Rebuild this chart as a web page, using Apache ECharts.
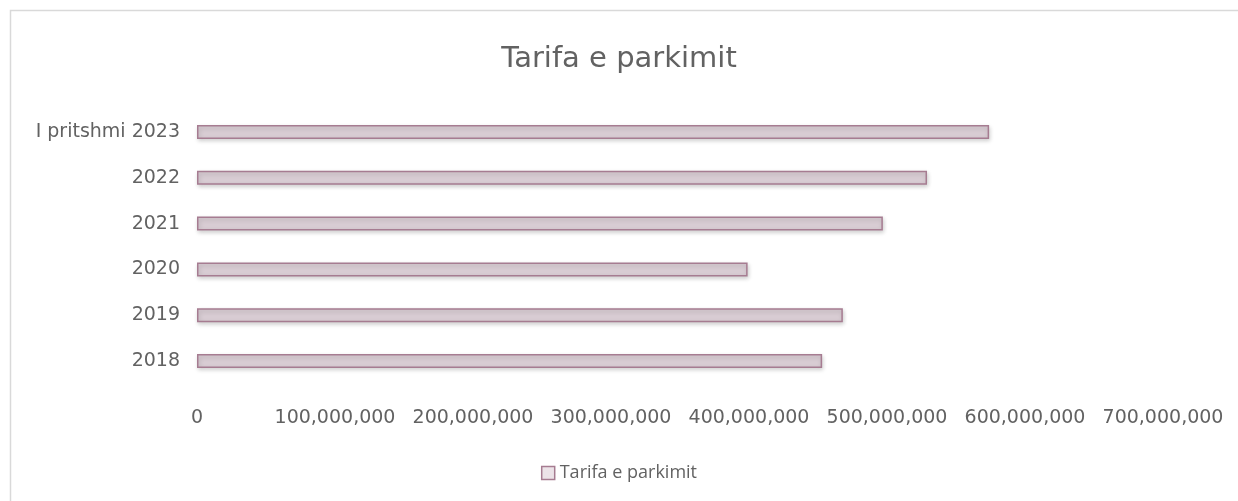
<!DOCTYPE html>
<html>
<head>
<meta charset="utf-8">
<script src="https://cdn.jsdelivr.net/npm/echarts@6/dist/echarts.min.js"></script>
<style>
  html, body { margin: 0; padding: 0; background: #fff; }
  #main { width: 1238px; height: 501px; }
</style>
</head>
<body>
<div id="main"></div>
<script>
// data
var categories = ["2018", "2019", "2020", "2021", "2022", "I pritshmi 2023"];
var seriesName = "Tarifa e parkimit";
var values = [453000000, 468000000, 399000000, 497000000, 529000000, 574000000];

var myChart = echarts.init(document.getElementById("main"));
var labelColor = "#626262";
var option = {
  backgroundColor: "#fff",
  textStyle: { fontFamily: "DejaVu Sans" },
  // chart frame: only top and left edges are inside the picture
  graphic: [
    {
      type: "rect",
      shape: { x: 10.5, y: 10.5, width: 1240, height: 510 },
      style: { fill: "none", stroke: "#d9d9d9", lineWidth: 1.5 },
      silent: true,
    },
  ],
  title: {
    text: "Tarifa e parkimit",
    left: "center",
    top: 40,
    textStyle: { color: labelColor, fontSize: 29, fontWeight: "normal", fontFamily: "DejaVu Sans" },
  },
  legend: {
    data: [seriesName],
    top: 459,
    left: "center",
    icon: "rect",
    itemWidth: 13,
    itemHeight: 13,
    itemGap: 4,
    itemStyle: { color: "#ece3e8", borderColor: "#a67c91", borderWidth: 1.5 },
    textStyle: { color: labelColor, fontSize: 18, fontFamily: "Open Sans" },
  },
  grid: {
    left: 197,
    right: 75,
    top: 109,
    height: 275,
    containLabel: false,
  },
  xAxis: {
    type: "value",
    min: 0,
    max: 700000000,
    interval: 100000000,
    axisLine: { show: false },
    axisTick: { show: false },
    splitLine: { show: false },
    axisLabel: {
      color: labelColor,
      fontSize: 19,
      margin: 25,
      fontFamily: "DejaVu Sans",
      formatter: function (v) { return v.toLocaleString("en-US"); },
    },
  },
  yAxis: {
    type: "category",
    data: categories,
    axisLine: { show: false },
    axisTick: { show: false },
    axisLabel: { color: labelColor, fontSize: 19, margin: 17, fontFamily: "DejaVu Sans" },
  },
  series: [
    {
      name: seriesName,
      type: "bar",
      data: values,
      barWidth: 14,
      itemStyle: {
        color: "#d8ccd3",
        borderColor: "#a67c91",
        borderWidth: 1.5,
        shadowBlur: 4,
        shadowOffsetX: 1,
        shadowOffsetY: 2,
        shadowColor: "rgba(0,0,0,0.18)",
      },
    },
  ],
};
myChart.setOption(option, true);
</script>
</body>
</html>
